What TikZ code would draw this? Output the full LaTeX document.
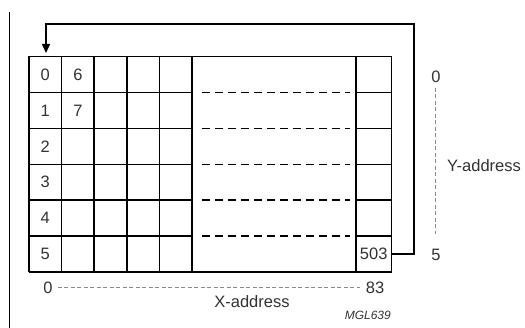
\documentclass[tikz,border=0pt]{standalone}
\usepackage{fontspec}
\setmainfont{Liberation Sans}
\usetikzlibrary{arrows.meta}
\definecolor{txt}{HTML}{333333}
\definecolor{axis}{HTML}{8A8A8A}
\begin{document}
\begin{tikzpicture}[x=1pt,y=-1pt,
  gridline/.style={line width=1.5pt, black},
  rowdash/.style={line width=1.5pt, black, dash pattern=on 8pt off 5pt},
  lbl/.style={font=\fontsize{16.5}{19}\selectfont, text=txt, inner sep=0pt},
  cell/.style={lbl, minimum width=32pt, minimum height=36pt},
  axisline/.style={axis, line width=0.8pt, dash pattern=on 4pt off 2.5pt},
  conn/.style={line width=1.5pt, black}]
\useasboundingbox (0,0) rectangle (525,328);
\fill[white] (0,0) rectangle (525,328);
% margin line
\draw[line width=1pt] (9.3,12) -- (9.3,328);
% grid verticals
\foreach \x in {29,61.6,94.2,126.8,159.4,192,356,391.5}
  \draw[gridline] (\x,56.5) -- (\x,272);
% outer horizontals
\draw[gridline] (29,56.5) -- (391.5,56.5);
\draw[gridline] (29,272) -- (391.5,272);
% inner rows
\foreach \y in {92.5,128.4,164.3,200.2,236.1} {
  \draw[gridline] (29,\y) -- (192,\y);
  \draw[gridline] (356,\y) -- (391.5,\y);
  \draw[rowdash] (202,\y) -- (350,\y);
}
% cell labels
\node[cell] (r0) at (45.3,74.5) {0};
\node[cell] (r1) at (45.3,110.4) {1};
\node[cell] (r2) at (45.3,146.3) {2};
\node[cell] (r3) at (45.3,182.2) {3};
\node[cell] (r4) at (45.3,218.1) {4};
\node[cell] (r5) at (45.3,254) {5};
\node[cell] (c6) at (77.9,74.5) {6};
\node[cell] (c7) at (77.9,110.4) {7};
\node[cell, minimum width=35.5pt] (c503) at (373.75,254) {503};
% wrap-around arrow
\coordinate (turn1) at (414,254);
\coordinate (turn2) at (414,24);
\coordinate (turn3) at (46,24);
\coordinate (tip) at (46,53);
\draw[conn, -{Triangle[length=9pt,width=8pt]}] (c503.east) -- (turn1) -- (turn2) -- (turn3) -- (tip);
% X axis
\node[lbl] (x0) at (48,287.5) {0};
\node[lbl] (x83) at (375,287.5) {83};
\draw[axisline] (x0.east) ++(5,0) -- ([xshift=-6pt]x83.west);
\node[lbl] (xa) at (252,302) {X-address};
% Y axis
\node[lbl] (y0) at (436,77) {0};
\node[lbl] (y5) at (436,254.5) {5};
\draw[axisline] (435,88) -- (435,234);
\node[lbl, anchor=west] (ya) at (447,166) {Y-address};
% figure code
\node[lbl, font=\fontsize{12}{14}\selectfont\itshape, anchor=east] (code) at (391,315) {MGL639};
\end{tikzpicture}
\end{document}
